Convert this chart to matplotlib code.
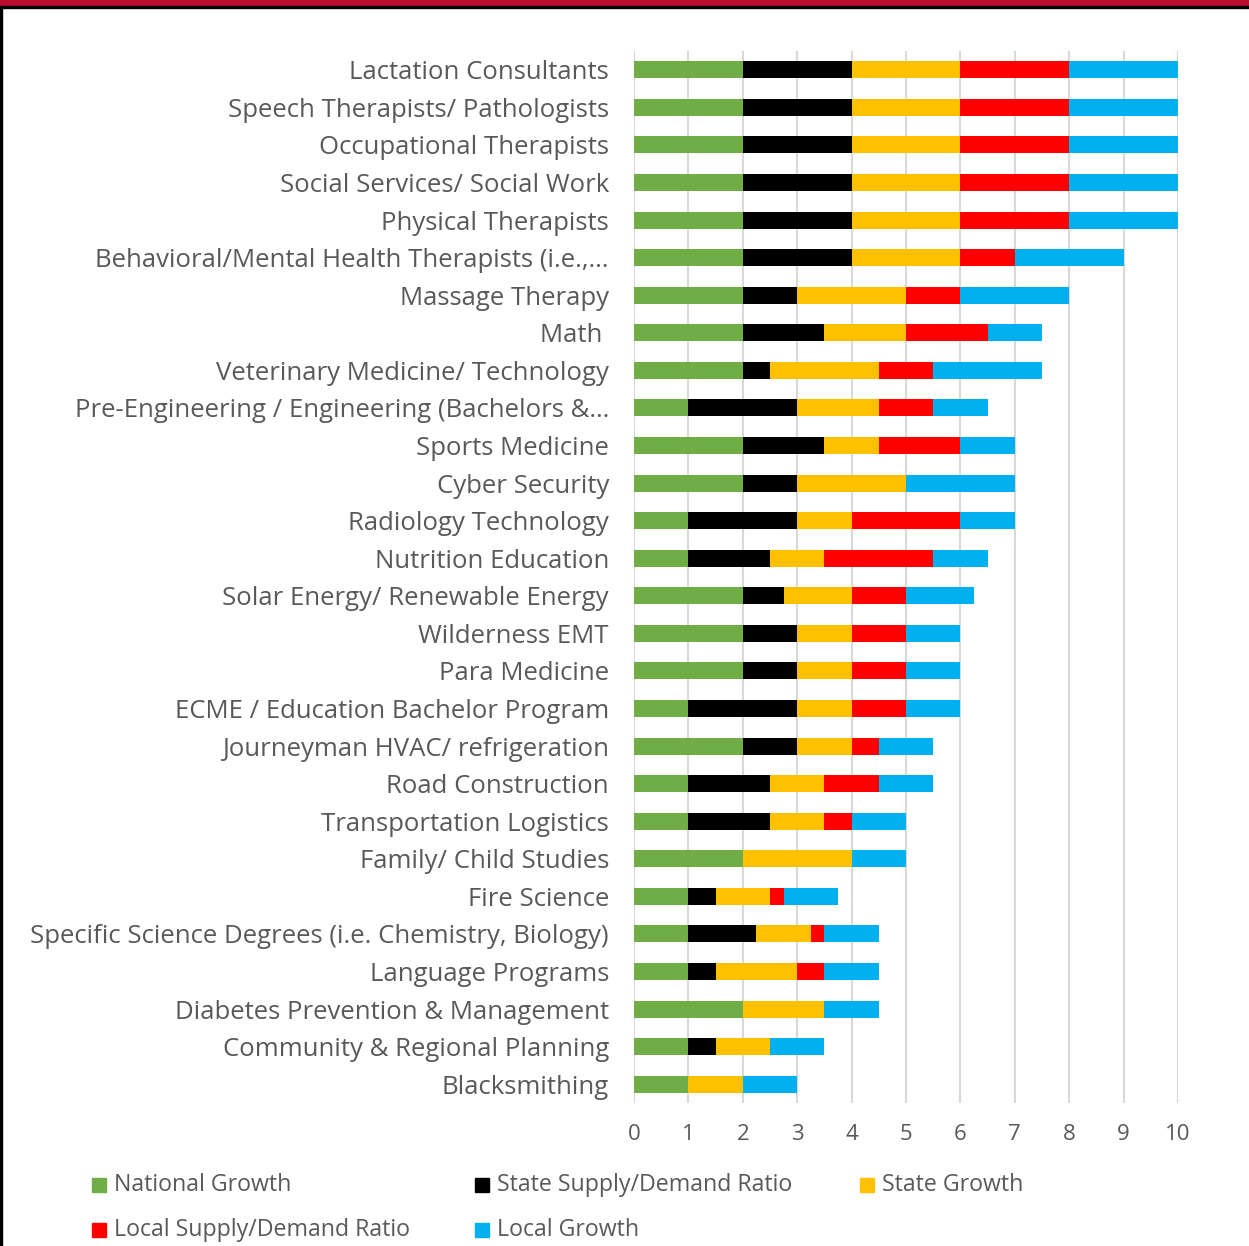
import matplotlib
matplotlib.use("Agg")
import matplotlib.pyplot as plt
from matplotlib.patches import Rectangle
import numpy as np

categories = [
    "Lactation Consultants",
    "Speech Therapists/ Pathologists",
    "Occupational Therapists",
    "Social Services/ Social Work",
    "Physical Therapists",
    "Behavioral/Mental Health Therapists (i.e.,\u2026",
    "Massage Therapy",
    "Math ",
    "Veterinary Medicine/ Technology",
    "Pre-Engineering / Engineering (Bachelors &\u2026",
    "Sports Medicine",
    "Cyber Security",
    "Radiology Technology",
    "Nutrition Education",
    "Solar Energy/ Renewable Energy",
    "Wilderness EMT",
    "Para Medicine",
    "ECME / Education Bachelor Program",
    "Journeyman HVAC/ refrigeration",
    "Road Construction",
    "Transportation Logistics",
    "Family/ Child Studies",
    "Fire Science",
    "Specific Science Degrees (i.e. Chemistry, Biology)",
    "Language Programs",
    "Diabetes Prevention & Management",
    "Community & Regional Planning",
    "Blacksmithing",
]

national_growth = [2, 2, 2, 2, 2, 2, 2, 2, 2, 1, 2, 2, 1, 1, 2, 2, 2, 1, 2, 1, 1, 2, 1, 1, 1, 2, 1, 1]
state_supply_demand = [2, 2, 2, 2, 2, 2, 1, 1.5, 0.5, 2, 1.5, 1, 2, 1.5, 0.75, 1, 1, 2, 1, 1.5, 1.5, 0, 0.5, 1.25, 0.5, 0, 0.5, 0]
state_growth = [2, 2, 2, 2, 2, 2, 2, 1.5, 2, 1.5, 1, 2, 1, 1, 1.25, 1, 1, 1, 1, 1, 1, 2, 1, 1, 1.5, 1.5, 1, 1]
local_supply_demand = [2, 2, 2, 2, 2, 1, 1, 1.5, 1, 1, 1.5, 0, 2, 2, 1, 1, 1, 1, 0.5, 1, 0.5, 0, 0.25, 0.25, 0.5, 0, 0, 0]
local_growth = [2, 2, 2, 2, 2, 2, 2, 1, 2, 1, 1, 2, 1, 1, 1.25, 1, 1, 1, 1, 1, 1, 1, 1, 1, 1, 1, 1, 1]

series_names = ["National Growth", "State Supply/Demand Ratio", "State Growth",
                "Local Supply/Demand Ratio", "Local Growth"]
series_colors = ["#70AD47", "#000000", "#FFC000", "#FF0000", "#00B0F0"]
x_ticks = [0, 1, 2, 3, 4, 5, 6, 7, 8, 9, 10]

FONT = ["Open Sans", "DejaVu Sans"]
TXT = "#595959"

fig = plt.figure(figsize=(12.49, 12.46), dpi=100)
W, H = 1249, 1246
ax = fig.add_axes([634 / W, (H - 1103) / H, 544 / W, 1052 / H])

series = [national_growth, state_supply_demand, state_growth, local_supply_demand, local_growth]
y = np.arange(len(categories))
left = np.zeros(len(categories))
for vals, name, col in zip(series, series_names, series_colors):
    v = np.array(vals, dtype=float)
    ax.barh(y, v, left=left, height=0.45, color=col, label=name, zorder=3)
    left += v

ax.set_ylim(len(categories) - 0.5, -0.5)
ax.set_xlim(0, 10)
ax.set_xticks(x_ticks)
ax.set_xticklabels([str(t) for t in x_ticks], fontsize=16, color=TXT, family=FONT)
ax.set_yticks(y)
ax.set_yticklabels(categories, fontsize=18.5, color=TXT, family=FONT)
ax.tick_params(axis="both", length=0)
ax.tick_params(axis="x", pad=15)
ax.tick_params(axis="y", pad=18)
ax.grid(axis="x", color="#D9D9D9", linewidth=1.5, zorder=0)
for s in ax.spines.values():
    s.set_visible(False)

# legend (manual, Excel-style even spacing)
leg_pos = [(92, 1185), (475, 1185), (860, 1185), (92, 1230), (475, 1230)]
for (px, py), name, col in zip(leg_pos, series_names, series_colors):
    fig.patches.append(Rectangle((px / W, (H - py - 7) / H), 14 / W, 14 / H,
                                 transform=fig.transFigure, color=col, figure=fig))
    fig.text((px + 22) / W, (H - py) / H, name, fontsize=16.7, color=TXT,
             family=FONT, va="center", ha="left")

# frame decoration
fig.patches.append(Rectangle((0, (H - 6) / H), 1, 6 / H, transform=fig.transFigure,
                             color="#BA0C2F", figure=fig))
fig.patches.append(Rectangle((0, (H - 7.5) / H), 1, 1.5 / H, transform=fig.transFigure,
                             color="#000000", figure=fig))
fig.patches.append(Rectangle((0, 0), 1.5 / W, (H - 6) / H, transform=fig.transFigure,
                             color="#000000", figure=fig))

fig.savefig("out.png", dpi=100)
